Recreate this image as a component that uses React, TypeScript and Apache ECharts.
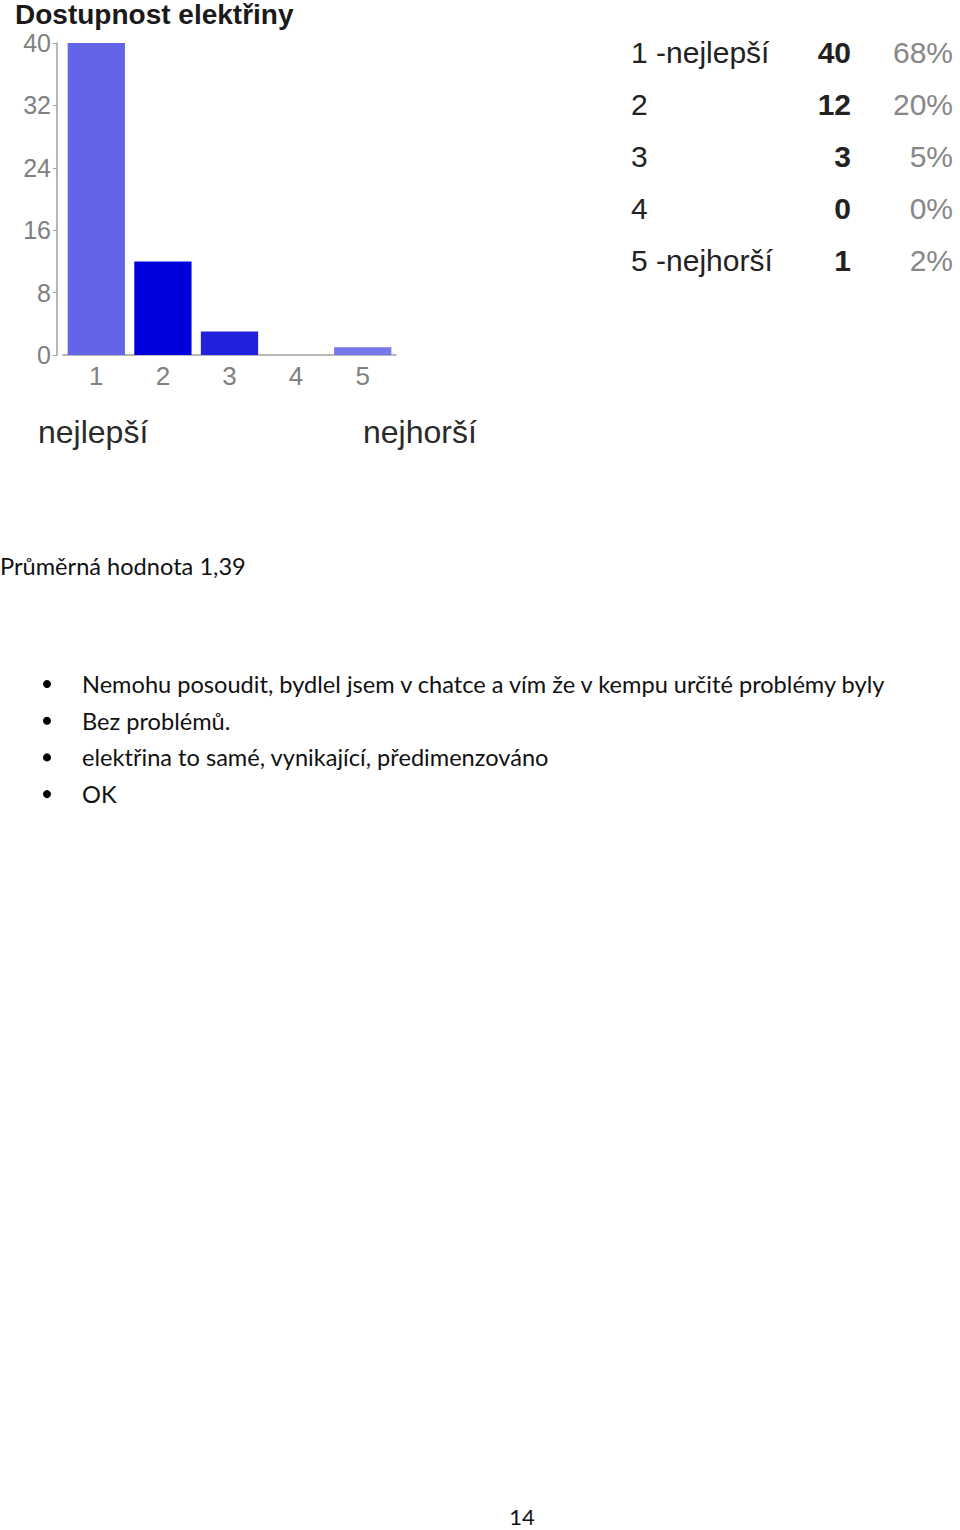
import { useEffect, useRef } from 'react';
import * as echarts from 'echarts';

// hodnocení 1..5
const categories = ['1', '2', '3', '4', '5'];
const counts = [40, 12, 3, 0, 1];
const barColors = ['#6464E6', '#0000DD', '#2020DD', '#6464E6', '#7878EC'];
const yTicks = { min: 0, max: 40, interval: 8 };

const tableLabels = ['1 -nejlepší', '2', '3', '4', '5 -nejhorší'];
const tablePercents = ['68%', '20%', '5%', '0%', '2%'];

const title = 'Dostupnost elektřiny';
const leftLabel = 'nejlepší';
const rightLabel = 'nejhorší';
const average = 'Průměrná hodnota 1,39';
const comments = [
  'Nemohu posoudit, bydlel jsem v chatce a vím že v kempu určité problémy byly',
  'Bez problémů.',
  'elektřina to samé, vynikající, předimenzováno',
  'OK',
];
const pageNumber = '14';

const chartFont = '"Liberation Sans", Arial, sans-serif';
const docFont = 'Lato, "Open Sans", sans-serif';

export default function App() {
  const chartRef = useRef<HTMLDivElement>(null);

  useEffect(() => {
    document.body.style.margin = '0';
    if (!chartRef.current) return;
    const chart = echarts.init(chartRef.current, undefined, { renderer: 'svg' });

    const graphics: any[] = [
      {
        type: 'text',
        x: 15,
        y: 14,
        style: { text: title, font: `bold 28px ${chartFont}`, fill: '#1a1a1a', verticalAlign: 'middle' },
      },
      {
        type: 'text',
        x: 38,
        y: 432,
        style: { text: leftLabel, font: `32px ${chartFont}`, fill: '#2a2a2a', verticalAlign: 'middle' },
      },
      {
        type: 'text',
        x: 363,
        y: 432,
        style: { text: rightLabel, font: `32px ${chartFont}`, fill: '#2a2a2a', verticalAlign: 'middle' },
      },
    ];

    // tabulka vpravo
    tableLabels.forEach((label, i) => {
      const y = 52 + i * 52;
      graphics.push(
        {
          type: 'text',
          x: 631,
          y,
          style: { text: label, font: `30px ${chartFont}`, fill: '#222', verticalAlign: 'middle' },
        },
        {
          type: 'text',
          x: 851,
          y,
          style: { text: String(counts[i]), font: `bold 30px ${chartFont}`, fill: '#222', align: 'right', verticalAlign: 'middle' },
        },
        {
          type: 'text',
          x: 953,
          y,
          style: { text: tablePercents[i], font: `30px ${chartFont}`, fill: '#888', align: 'right', verticalAlign: 'middle' },
        }
      );
    });

    graphics.push({
      type: 'text',
      x: 0,
      y: 566,
      style: { text: average, font: `23.6px ${docFont}`, fill: '#111', verticalAlign: 'middle' },
    });

    comments.forEach((c, i) => {
      const y = 684 + i * 36.7;
      graphics.push(
        { type: 'circle', shape: { cx: 47, cy: y, r: 4 }, style: { fill: '#000' } },
        {
          type: 'text',
          x: 82,
          y,
          style: { text: c, font: `23.6px ${docFont}`, fill: '#111', verticalAlign: 'middle' },
        }
      );
    });

    graphics.push({
      type: 'text',
      x: 522,
      y: 1516,
      style: { text: pageNumber, font: `22px ${docFont}`, fill: '#111', align: 'center', verticalAlign: 'middle' },
    });

    const option: echarts.EChartsOption = {
      animation: false,
      backgroundColor: '#ffffff',
      grid: { left: 63, top: 43, width: 333, height: 312, containLabel: false },
      xAxis: {
        type: 'category',
        data: categories,
        axisLine: { lineStyle: { color: '#a0a0a0', width: 1.5 } },
        axisTick: { alignWithLabel: true, length: 7, lineStyle: { color: '#a0a0a0', width: 1.5 } },
        axisLabel: { color: '#808080', fontSize: 26, fontFamily: chartFont, margin: 8 },
      },
      yAxis: {
        type: 'value',
        min: yTicks.min,
        max: yTicks.max,
        interval: yTicks.interval,
        offset: 6,
        axisLine: { show: true, lineStyle: { color: '#a0a0a0', width: 1.5 } },
        axisTick: { show: true, length: 4, lineStyle: { color: '#a0a0a0' } },
        axisLabel: { color: '#808080', fontSize: 25, fontFamily: chartFont, margin: 6 },
        splitLine: { show: false },
      },
      series: [
        {
          type: 'bar',
          data: counts.map((v, i) => ({ value: v, itemStyle: { color: barColors[i] } })),
          barCategoryGap: '14%',
        },
      ],
      graphic: graphics,
    };

    chart.setOption(option);
    return () => chart.dispose();
  }, []);

  return <div ref={chartRef} style={{ width: 960, height: 1530 }} />;
}
